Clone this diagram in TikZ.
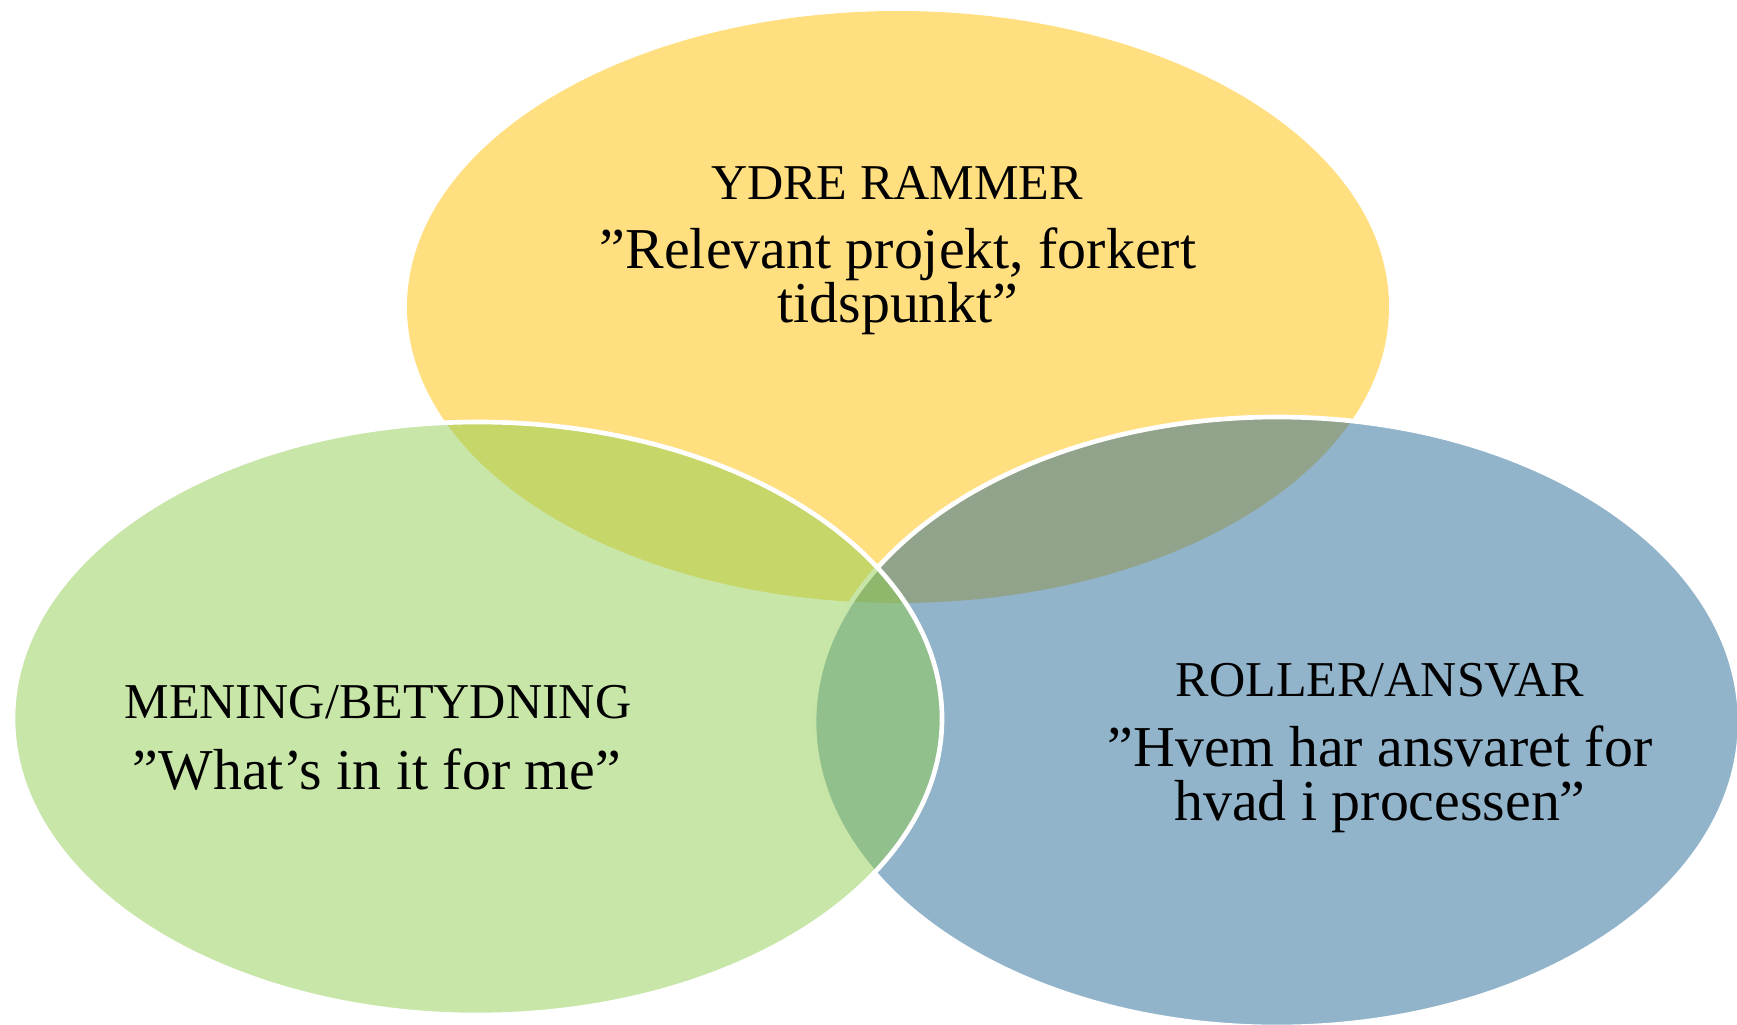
\documentclass[tikz,border=0pt]{standalone}
\usepackage{fontspec}
\setmainfont{Liberation Serif}
\usetikzlibrary{shapes.geometric}
\definecolor{cyellow}{RGB}{255,191,0}
\definecolor{cgreen}{RGB}{145,205,81}
\definecolor{cblue}{RGB}{37,105,151}
\begin{document}
\begin{tikzpicture}[x=0.75pt,y=-0.75pt,
  venn/.style={ellipse, inner sep=0pt, outer sep=0pt, fill opacity=0.5, draw opacity=1},
  ring/.style={draw=white, line width=3.5pt},
  headtxt/.style={anchor=base, inner sep=0pt, font=\fontsize{37.6}{42}\selectfont},
  quotetxt/.style={anchor=base, inner sep=0pt, align=center, font=\fontsize{43.4}{40}\selectfont}]
\useasboundingbox (0,0) rectangle (1737,1024);
% ellipses
\node[venn, fill=cyellow, minimum width=736.5pt, minimum height=444pt] (ydre) at (898,307) {};
\node[venn, ring, fill=cblue, minimum width=694.5pt, minimum height=457.5pt] (roller) at (1277,722) {};
\node[venn, ring, fill=cgreen, minimum width=696.75pt, minimum height=444.75pt] (mening) at (477.5,718.5) {};
% texts (base anchor of a two-line node = baseline of its last line)
\node[headtxt] (ydreh) at (897,199) {YDRE RAMMER};
\node[quotetxt] (ydreq) at (898,322) {”Relevant projekt, forkert\\tidspunkt”};
\node[headtxt] (meningh) at (378,718) {MENING/BETYDNING};
\node[quotetxt] (meningq) at (377,789) {”What’s in it for me”};
\node[headtxt] (rollerh) at (1380,696) {ROLLER/ANSVAR};
\node[quotetxt] (rollerq) at (1380,820) {”Hvem har ansvaret for\\hvad i processen”};
\end{tikzpicture}
\end{document}
